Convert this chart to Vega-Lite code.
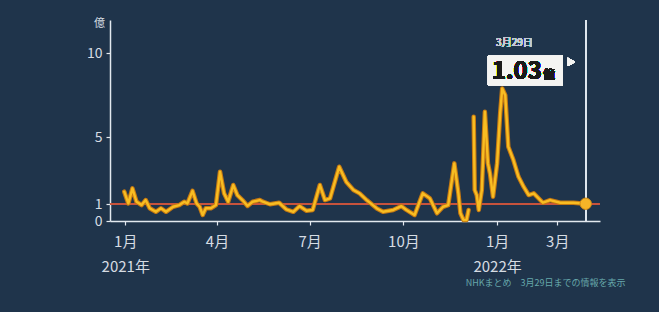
{
  "$schema": "https://vega.github.io/schema/vega-lite/v6.json",
  "width": 490,
  "height": 201,
  "autosize": {"type": "none"},
  "padding": {"left": 110, "top": 20, "right": 59, "bottom": 91},
  "background": "#1f344b",
  "config": {
    "view": {"stroke": null},
    "font": "Noto Sans CJK JP",
    "axisX": {
      "domainColor": "#e3e9ef", "domainWidth": 1.5, "tickColor": "#e3e9ef", "tickSize": 4, "tickWidth": 1.2,
      "labelColor": "#d6dce3", "labelFontSize": 15, "labelPadding": 9, "labelLineHeight": 25,
      "labelFlush": false, "labelOverlap": false, "grid": false, "labelFont": "Noto Sans CJK JP"
    },
    "axisY": {
      "domainColor": "#e3e9ef", "domainWidth": 1.5, "tickColor": "#e3e9ef", "tickSize": 4, "tickWidth": 1.2,
      "labelColor": "#d6dce3", "labelFontSize": 14, "labelPadding": 4, "labelOverlap": false, "grid": false,
      "titleAngle": 0, "titleX": -11, "titleY": 3, "titleAlign": "center", "titleBaseline": "middle",
      "titleFontSize": 11, "titleFontWeight": "normal", "titleColor": "#d6dce3", "labelFont": "Noto Sans CJK JP"
    }
  },
  "title": {
    "text": "NHKまとめ　3月29日までの情報を表示",
    "orient": "bottom", "anchor": "end", "fontSize": 9, "fontWeight": "normal",
    "color": "#66a7aa", "offset": 5, "dx": 25, "font": "Noto Sans CJK JP"
  },
  "data": {
    "values": [
      {"date": "2020-12-31", "value": 1.75, "seg": 1},
      {"date": "2021-01-04", "value": 1.05, "seg": 1},
      {"date": "2021-01-08", "value": 1.95, "seg": 1},
      {"date": "2021-01-12", "value": 1.15, "seg": 1},
      {"date": "2021-01-17", "value": 0.95, "seg": 1},
      {"date": "2021-01-21", "value": 1.25, "seg": 1},
      {"date": "2021-01-25", "value": 0.76, "seg": 1},
      {"date": "2021-01-31", "value": 0.55, "seg": 1},
      {"date": "2021-02-05", "value": 0.76, "seg": 1},
      {"date": "2021-02-10", "value": 0.55, "seg": 1},
      {"date": "2021-02-17", "value": 0.85, "seg": 1},
      {"date": "2021-02-23", "value": 0.95, "seg": 1},
      {"date": "2021-02-28", "value": 1.15, "seg": 1},
      {"date": "2021-03-03", "value": 1.05, "seg": 1},
      {"date": "2021-03-08", "value": 1.8, "seg": 1},
      {"date": "2021-03-12", "value": 1.05, "seg": 1},
      {"date": "2021-03-15", "value": 0.85, "seg": 1},
      {"date": "2021-03-18", "value": 0.36, "seg": 1},
      {"date": "2021-03-21", "value": 0.76, "seg": 1},
      {"date": "2021-03-26", "value": 0.76, "seg": 1},
      {"date": "2021-03-31", "value": 0.95, "seg": 1},
      {"date": "2021-04-04", "value": 2.94, "seg": 1},
      {"date": "2021-04-08", "value": 1.65, "seg": 1},
      {"date": "2021-04-12", "value": 1.15, "seg": 1},
      {"date": "2021-04-17", "value": 2.15, "seg": 1},
      {"date": "2021-04-21", "value": 1.55, "seg": 1},
      {"date": "2021-04-26", "value": 1.25, "seg": 1},
      {"date": "2021-05-01", "value": 0.9, "seg": 1},
      {"date": "2021-05-06", "value": 1.15, "seg": 1},
      {"date": "2021-05-13", "value": 1.25, "seg": 1},
      {"date": "2021-05-16", "value": 1.15, "seg": 1},
      {"date": "2021-05-23", "value": 1.0, "seg": 1},
      {"date": "2021-06-01", "value": 1.09, "seg": 1},
      {"date": "2021-06-08", "value": 0.7, "seg": 1},
      {"date": "2021-06-15", "value": 0.55, "seg": 1},
      {"date": "2021-06-21", "value": 0.89, "seg": 1},
      {"date": "2021-06-28", "value": 0.61, "seg": 1},
      {"date": "2021-07-04", "value": 0.66, "seg": 1},
      {"date": "2021-07-11", "value": 2.15, "seg": 1},
      {"date": "2021-07-16", "value": 1.25, "seg": 1},
      {"date": "2021-07-21", "value": 1.35, "seg": 1},
      {"date": "2021-07-30", "value": 3.24, "seg": 1},
      {"date": "2021-08-06", "value": 2.33, "seg": 1},
      {"date": "2021-08-13", "value": 1.85, "seg": 1},
      {"date": "2021-08-19", "value": 1.65, "seg": 1},
      {"date": "2021-08-26", "value": 1.25, "seg": 1},
      {"date": "2021-09-05", "value": 0.75, "seg": 1},
      {"date": "2021-09-11", "value": 0.55, "seg": 1},
      {"date": "2021-09-21", "value": 0.66, "seg": 1},
      {"date": "2021-09-29", "value": 0.89, "seg": 1},
      {"date": "2021-10-04", "value": 0.66, "seg": 1},
      {"date": "2021-10-12", "value": 0.36, "seg": 1},
      {"date": "2021-10-20", "value": 1.65, "seg": 1},
      {"date": "2021-10-27", "value": 1.35, "seg": 1},
      {"date": "2021-11-03", "value": 0.46, "seg": 1},
      {"date": "2021-11-09", "value": 0.85, "seg": 1},
      {"date": "2021-11-14", "value": 0.95, "seg": 1},
      {"date": "2021-11-20", "value": 3.44, "seg": 1},
      {"date": "2021-11-24", "value": 1.65, "seg": 1},
      {"date": "2021-11-26", "value": 0.46, "seg": 1},
      {"date": "2021-11-29", "value": 0.06, "seg": 1},
      {"date": "2021-12-02", "value": 0.06, "seg": 1},
      {"date": "2021-12-04", "value": 0.66, "seg": 1},
      {"date": "2021-12-09", "value": 6.22, "seg": 2},
      {"date": "2021-12-10", "value": 1.85, "seg": 2},
      {"date": "2021-12-12", "value": 1.55, "seg": 2},
      {"date": "2021-12-14", "value": 0.66, "seg": 2},
      {"date": "2021-12-17", "value": 1.85, "seg": 2},
      {"date": "2021-12-20", "value": 6.52, "seg": 2},
      {"date": "2021-12-23", "value": 3.44, "seg": 2},
      {"date": "2021-12-25", "value": 2.84, "seg": 2},
      {"date": "2021-12-28", "value": 1.45, "seg": 2},
      {"date": "2022-01-01", "value": 3.44, "seg": 2},
      {"date": "2022-01-04", "value": 6.42, "seg": 2},
      {"date": "2022-01-06", "value": 7.91, "seg": 2},
      {"date": "2022-01-09", "value": 7.51, "seg": 2},
      {"date": "2022-01-12", "value": 4.43, "seg": 2},
      {"date": "2022-01-17", "value": 3.64, "seg": 2},
      {"date": "2022-01-22", "value": 2.64, "seg": 2},
      {"date": "2022-01-27", "value": 2.05, "seg": 2},
      {"date": "2022-02-01", "value": 1.55, "seg": 2},
      {"date": "2022-02-06", "value": 1.65, "seg": 2},
      {"date": "2022-02-15", "value": 1.09, "seg": 2},
      {"date": "2022-02-22", "value": 1.25, "seg": 2},
      {"date": "2022-03-04", "value": 1.09, "seg": 2},
      {"date": "2022-03-17", "value": 1.09, "seg": 2},
      {"date": "2022-03-29", "value": 1.03, "seg": 2}
    ]
  },
  "layer": [
    {
      "mark": {"type": "rule", "color": "#c8543c", "strokeWidth": 1},
      "encoding": {
        "y": {"datum": 1, "type": "quantitative", "scale": {"domain": [0, 12]}, "axis": {"values": [0, 1, 5, 10]}, "title": "億"}
      }
    },
    {
      "mark": {"type": "rule", "color": "#dfe6ee", "strokeWidth": 1.2},
      "encoding": {
        "x": {"datum": {"year": 2022, "month": 3, "date": 29, "utc": true}, "type": "temporal", "title": null}
      }
    },
    {
      "mark": {"type": "line", "color": "#c47812", "strokeWidth": 4.5, "strokeJoin": "round", "strokeCap": "round"},
      "encoding": {
        "x": {"field": "date", "type": "temporal", "title": null,
          "scale": {"type": "utc", "domain": [{"year": 2020, "month": 12, "date": 17, "utc": true}, {"year": 2022, "month": 4, "date": 12, "utc": true}]},
          "axis": {
            "values": [
              {"year": 2021, "month": 1, "date": 1, "utc": true},
              {"year": 2021, "month": 4, "date": 1, "utc": true},
              {"year": 2021, "month": 7, "date": 1, "utc": true},
              {"year": 2021, "month": 10, "date": 1, "utc": true},
              {"year": 2022, "month": 1, "date": 1, "utc": true},
              {"year": 2022, "month": 3, "date": 1, "utc": true}
            ],
            "labelExpr": "utcmonth(datum.value) == 0 ? [utcFormat(datum.value, '%-m') + '月', utcFormat(datum.value, '%Y') + '年'] : utcFormat(datum.value, '%-m') + '月'"
          }
        },
        "y": {"field": "value", "type": "quantitative", "title": "億"},
        "detail": {"field": "seg"}
      }
    },
    {
      "mark": {"type": "line", "color": "#f8bd22", "strokeWidth": 2.4, "strokeJoin": "round", "strokeCap": "round"},
      "encoding": {
        "x": {"field": "date", "type": "temporal", "title": null},
        "y": {"field": "value", "type": "quantitative", "title": "億"},
        "detail": {"field": "seg"}
      }
    },
    {
      "transform": [{"filter": "time(datum.date) == utc(2022, 2, 29)"}],
      "mark": {"type": "point", "filled": true, "color": "#f5b428", "size": 130, "opacity": 1, "stroke": "#d08a14", "strokeWidth": 1},
      "encoding": {
        "x": {"field": "date", "type": "temporal", "title": null},
        "y": {"field": "value", "type": "quantitative", "title": "億"}
      }
    },
    {
      "mark": {"type": "rect", "color": "#f4f4f2"},
      "encoding": {
        "x": {"datum": {"year": 2021, "month": 12, "date": 23, "utc": true}, "type": "temporal", "title": null},
        "x2": {"datum": {"year": 2022, "month": 3, "date": 6, "utc": true}},
        "y": {"datum": 9.86, "type": "quantitative", "title": "億"},
        "y2": {"datum": 8.11}
      }
    },
    {
      "mark": {"type": "point", "shape": "triangle-right", "filled": true, "color": "#f4f4f2", "size": 70, "opacity": 1},
      "encoding": {
        "x": {"datum": {"year": 2022, "month": 3, "date": 15, "utc": true}, "type": "temporal", "title": null},
        "y": {"datum": 9.5, "type": "quantitative", "title": "億"}
      }
    },
    {
      "mark": {"type": "text", "text": "1.03", "fontSize": 24, "fontWeight": "bold", "color": "#1b1b1b", "align": "right", "baseline": "alphabetic", "font": "Noto Sans CJK JP"},
      "encoding": {
        "x": {"datum": {"year": 2022, "month": 2, "date": 14, "utc": true}, "type": "temporal", "title": null},
        "y": {"datum": 8.47, "type": "quantitative", "title": "億"}
      }
    },
    {
      "mark": {"type": "text", "text": "億", "fontSize": 12, "fontWeight": "bold", "color": "#1b1b1b", "align": "left", "baseline": "alphabetic", "font": "Noto Sans CJK JP"},
      "encoding": {
        "x": {"datum": {"year": 2022, "month": 2, "date": 15, "utc": true}, "type": "temporal", "title": null},
        "y": {"datum": 8.5, "type": "quantitative", "title": "億"}
      }
    },
    {
      "mark": {"type": "text", "text": "3月29日", "fontSize": 10, "color": "#c3cbd4", "align": "center", "baseline": "middle", "font": "Noto Sans CJK JP"},
      "encoding": {
        "x": {"datum": {"year": 2022, "month": 1, "date": 18, "utc": true}, "type": "temporal", "title": null},
        "y": {"datum": 10.61, "type": "quantitative", "title": "億"}
      }
    }
  ]
}
